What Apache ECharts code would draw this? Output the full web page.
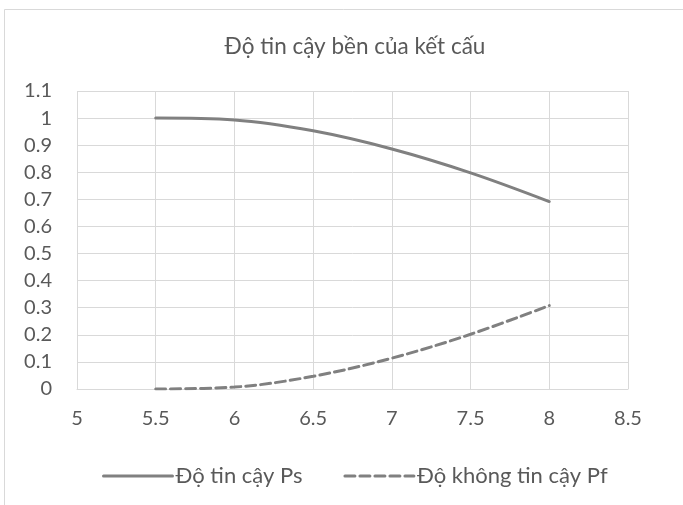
<!DOCTYPE html>
<html>
<head>
<meta charset="utf-8">
<script src="https://cdn.jsdelivr.net/npm/echarts@6/dist/echarts.min.js"></script>
<style>
  html, body { margin: 0; padding: 0; background: #fff; }
  #chart { width: 683px; height: 505px; }
</style>
</head>
<body>
<div id="chart"></div>
<script>
// Structural reliability against stress level
const xValues = [5.5, 6, 6.5, 7, 7.5, 8];
const reliabilityPs = [1.0, 0.993, 0.953, 0.886, 0.798, 0.692];
const failurePf = [0.0, 0.007, 0.047, 0.114, 0.202, 0.308];
const seriesNames = ['Độ tin cậy Ps', 'Độ không tin cậy Pf'];
const chartTitle = 'Độ tin cậy bền của kết cấu';

const FONT = 'Lato, "Open Sans", sans-serif';
const TEXT = '#595959';
const GRID = '#d9d9d9';
const LINE = '#808080';

const pair = (xs, ys) => xs.map((x, i) => [x, ys[i]]);

const chart = echarts.init(document.getElementById('chart'), null, { renderer: 'canvas' });
chart.setOption({
  backgroundColor: '#fff',
  animation: false,
  textStyle: { fontFamily: FONT },
  title: {
    text: chartTitle,
    left: 350,
    textAlign: 'center',
    top: 30,
    textStyle: { fontFamily: FONT, fontSize: 22.5, fontWeight: 'normal', color: TEXT }
  },
  // chart-area frame (top and left edges)
  graphic: [
    { type: 'line', shape: { x1: 4.5, y1: 9.5, x2: 683, y2: 9.5 }, style: { stroke: '#d9d9d9', lineWidth: 1 } },
    { type: 'line', shape: { x1: 4.5, y1: 9.5, x2: 4.5, y2: 505 }, style: { stroke: '#d9d9d9', lineWidth: 1 } }
  ],
  grid: { left: 77, right: 55, top: 91, bottom: 116, containLabel: false },
  legend: {
    top: 460,
    left: 97,
    itemGap: 41,
    itemWidth: 69,
    itemHeight: 12,
    itemStyle: { opacity: 0 },
    lineStyle: { width: 3 },
    textStyle: { fontFamily: FONT, fontSize: 22, color: TEXT, padding: [0, 0, 0, -2] },
    data: seriesNames
  },
  xAxis: {
    type: 'value',
    min: 5,
    max: 8.5,
    interval: 0.5,
    axisLine: { show: true, lineStyle: { color: GRID, width: 1 } },
    axisTick: { show: false },
    splitLine: { show: true, lineStyle: { color: GRID, width: 1 } },
    axisLabel: { fontFamily: FONT, fontSize: 20, color: TEXT, margin: 20, showMaxLabel: true, showMinLabel: true }
  },
  yAxis: {
    type: 'value',
    min: 0,
    max: 1.1,
    interval: 0.1,
    axisLine: { show: false },
    axisTick: { show: false },
    splitLine: { show: true, lineStyle: { color: GRID, width: 1 } },
    axisLabel: {
      fontFamily: FONT, fontSize: 20, color: TEXT, margin: 25,
      formatter: v => String(Math.round(v * 10) / 10)
    }
  },
  series: [
    {
      name: seriesNames[0],
      type: 'line',
      smooth: 0.35,
      symbol: 'none',
      data: pair(xValues, reliabilityPs),
      lineStyle: { color: LINE, width: 3, cap: 'round' },
      itemStyle: { color: LINE }
    },
    {
      name: seriesNames[1],
      type: 'line',
      smooth: 0.35,
      symbol: 'none',
      data: pair(xValues, failurePf),
      lineStyle: { color: LINE, width: 3, type: [10, 5], cap: 'round' },
      itemStyle: { color: LINE }
    }
  ]
});
</script>
</body>
</html>
